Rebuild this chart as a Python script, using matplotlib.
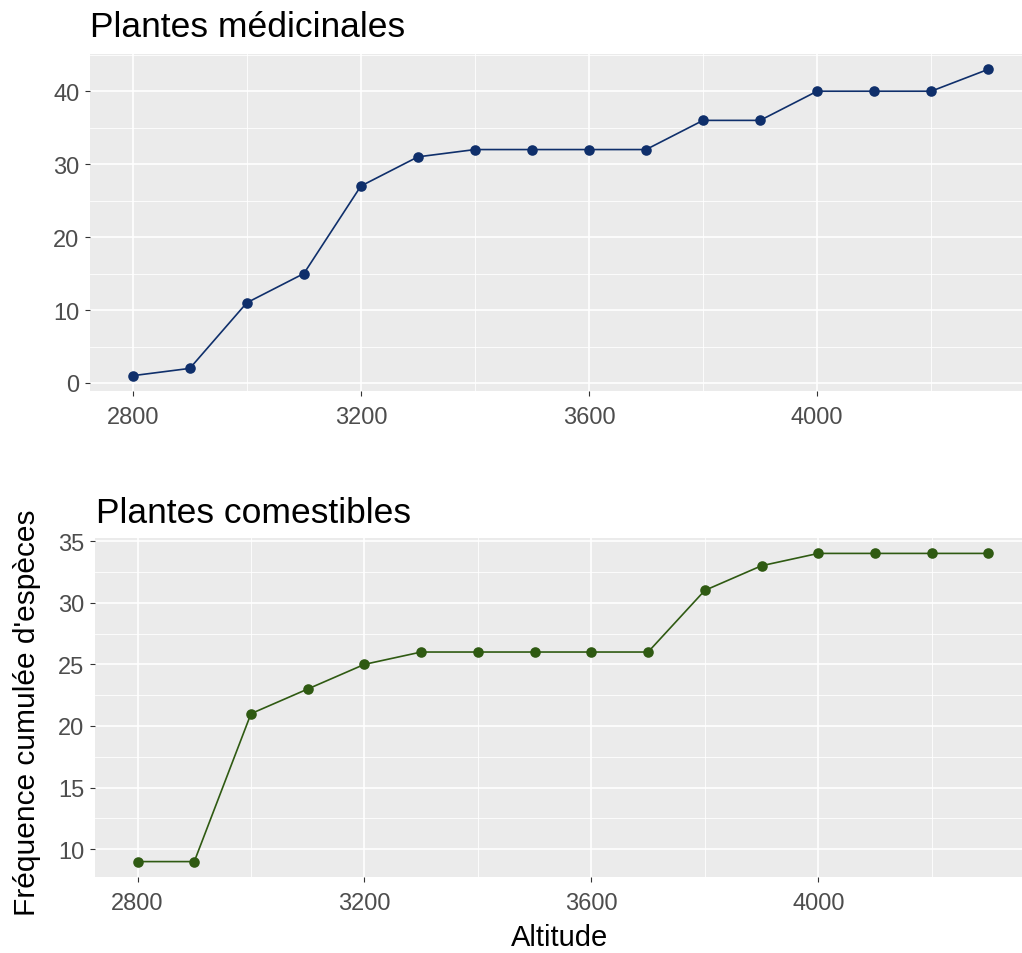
import numpy as np
import matplotlib
matplotlib.use('Agg')
import matplotlib.pyplot as plt
from matplotlib.ticker import MultipleLocator

altitude = [2800, 2900, 3000, 3100, 3200, 3300, 3400, 3500,
            3600, 3700, 3800, 3900, 4000, 4100, 4200, 4300]
medicinales = [1, 2, 11, 15, 27, 31, 32, 32, 32, 32, 36, 36, 40, 40, 40, 43]
comestibles = [9, 9, 21, 23, 25, 26, 26, 26, 26, 26, 31, 33, 34, 34, 34, 34]

x_ticks = [2800, 3200, 3600, 4000]

plt.rcParams['font.family'] = ['Liberation Sans', 'DejaVu Sans']

W, H = 1022, 954
fig = plt.figure(figsize=(W / 100, H / 100), dpi=100)


def add_panel(left, right, top, bottom):
    return fig.add_axes([left / W, 1 - bottom / H, (right - left) / W, (bottom - top) / H])


def style_panel(ax, x, y, color, y_step):
    ax.set_facecolor('#ebebeb')
    for s in ax.spines.values():
        s.set_visible(False)

    # ggplot style expansion of 5% on each side
    xr = max(x) - min(x)
    yr = max(y) - min(y)
    ax.set_xlim(min(x) - 0.05 * xr, max(x) + 0.05 * xr)
    ax.set_ylim(min(y) - 0.05 * yr, max(y) + 0.05 * yr)

    ax.set_xticks(x_ticks)
    ax.xaxis.set_minor_locator(MultipleLocator(200))
    ax.yaxis.set_major_locator(MultipleLocator(y_step))
    ax.yaxis.set_minor_locator(MultipleLocator(y_step / 2))

    ax.grid(which='major', color='white', linewidth=1.2)
    ax.grid(which='minor', color='white', linewidth=0.6)
    ax.set_axisbelow(True)

    ax.tick_params(which='major', length=3.5, width=0.8, color='#333333',
                   labelcolor='#4d4d4d', labelsize=17)
    ax.tick_params(axis='x', pad=7)
    ax.tick_params(axis='y', pad=4)
    ax.tick_params(which='minor', length=0)

    ax.plot(x, y, color=color, linewidth=1.2, zorder=3)
    ax.scatter(x, y, color=color, s=58, zorder=4, linewidths=0)


ax1 = add_panel(90, 1031, 55, 392)
style_panel(ax1, altitude, medicinales, '#0f2f6b', 10)
fig.text(90 / W, 1 - 37 / H, 'Plantes médicinales', fontsize=25.5, color='black',
         ha='left', va='baseline')

ax2 = add_panel(95, 1031, 539, 878)
style_panel(ax2, altitude, comestibles, '#2f5a12', 5)
fig.text(96 / W, 1 - 523 / H, 'Plantes comestibles', fontsize=25.5, color='black',
         ha='left', va='baseline')

fig.text(27 / W, 1 - 713 / H, "Fréquence cumulée d'espèces", fontsize=21.5,
         rotation=90, ha='center', va='center')
fig.text(560 / W, 1 - 938 / H, 'Altitude', fontsize=21, ha='center', va='center')

fig.savefig('out.png', dpi=100, facecolor='white')
